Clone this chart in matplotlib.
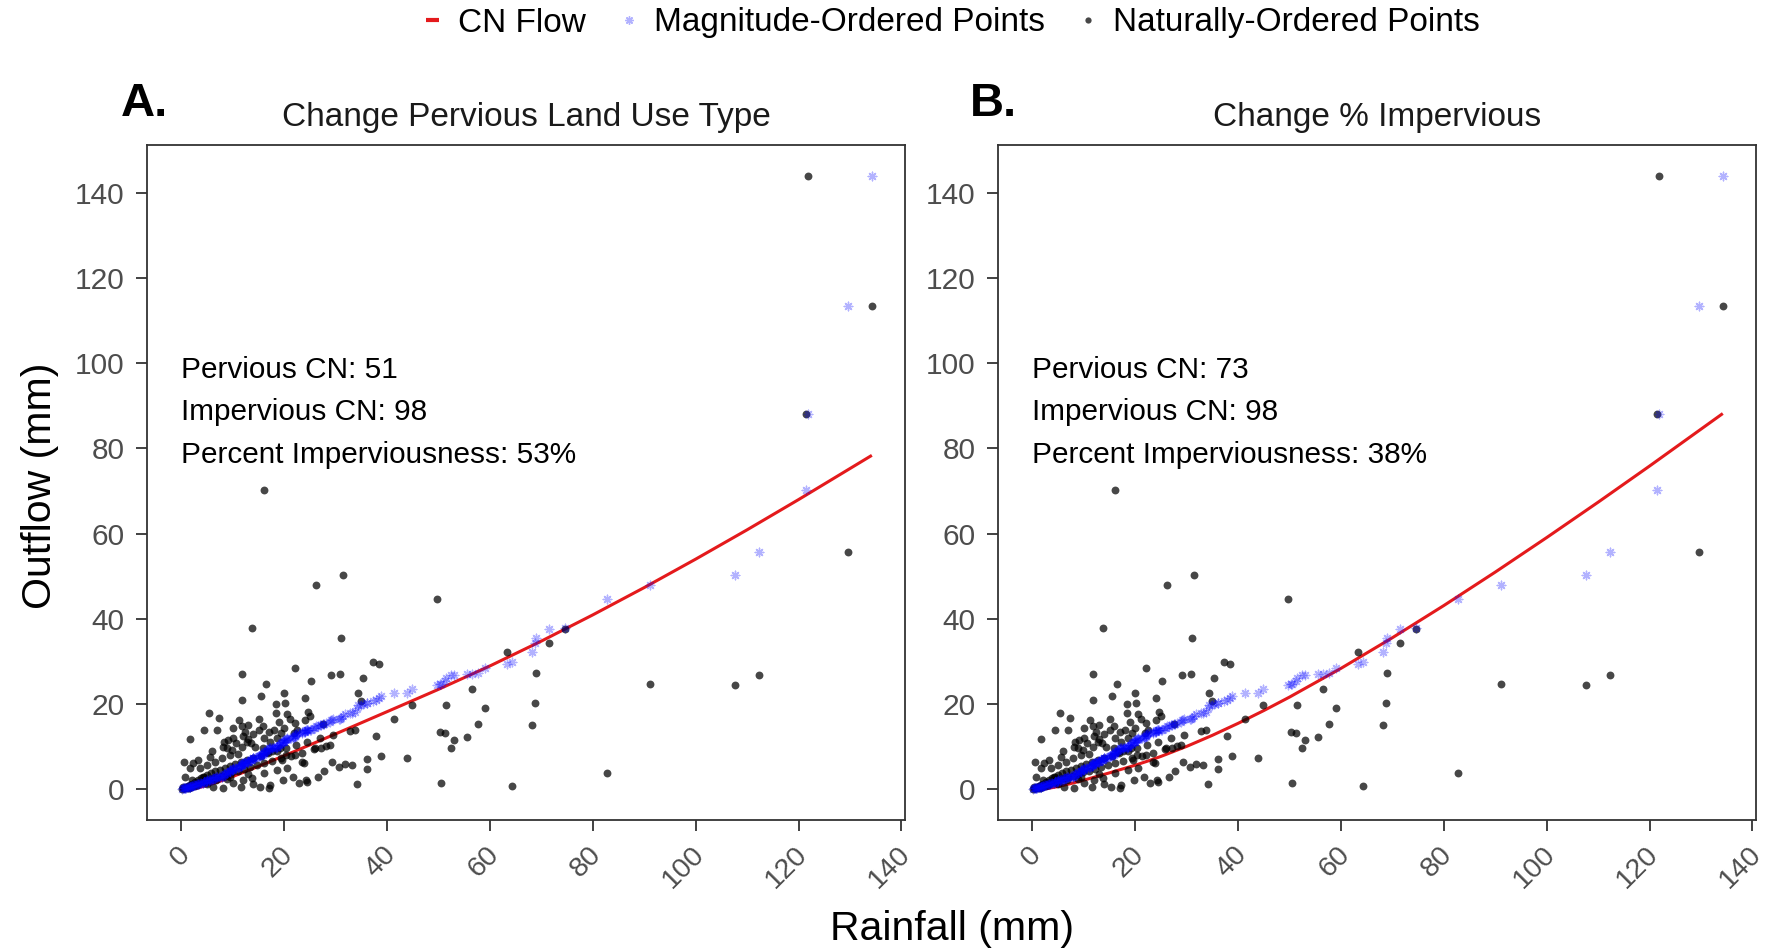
import numpy as np
import matplotlib
matplotlib.use("Agg")
import matplotlib.pyplot as plt
import matplotlib.transforms as mtransforms
from matplotlib.lines import Line2D

plt.rcParams['font.family'] = ['Liberation Sans', 'DejaVu Sans']

# ---------------- data ----------------
# naturally ordered storm events: rainfall (mm) and outflow (mm)
rainfall_mm = [
    121.8, 134.3, 121.4, 129.7, 16.1, 112.3, 107.7, 91.1, 82.8, 74.6,
    71.4, 68.9, 68.8, 68.1, 63.4, 64.2, 59.1, 56.5, 57.6, 55.5,
    53.0, 52.4, 50.3, 51.2, 51.4, 49.7, 50.4, 44.8, 43.8, 41.4,
    38.8, 37.8, 37.2, 38.4, 35.3, 34.4, 35.0, 32.8, 33.8, 31.1,
    31.4, 26.2, 34.1, 29.0, 30.8, 25.1, 22.1, 24.7, 13.7, 11.7,
    16.5, 11.7, 18.3, 20.2, 18.3, 20.6, 19.9, 5.4, 7.3, 4.3,
    7.0, 1.6, 11.2, 11.7, 12.4, 15.0, 15.8, 21.2, 25.0, 24.5,
    29.2, 30.6, 31.8, 33.2, 36.0, 36.1, 17.1, 19.5, 23.8, 26.0,
    27.2, 28.9, 27.5, 21.9, 0.5, 3.3, 8.2, 13.5, 11.7, 9.8,
    17.2, 18.5, 19.3, 22.4, 5.5, 6.5, 7.8, 9.4, 11.0, 16.6,
    17.6, 19.2, 20.4, 22.1, 23.4, 24.3, 1.7, 3.6, 4.9, 2.3,
    8.8, 10.7, 12.7, 14.3, 15.9,
    0.2, 0.4, 0.6, 0.8, 1.0, 1.2, 1.4, 1.6, 1.9, 2.1,
    2.4, 2.6, 2.9, 3.2, 3.5, 3.8, 4.1, 4.4, 4.7, 5.0,
    5.4, 5.8, 6.2, 6.6, 7.0, 7.4, 7.9, 8.4, 8.9, 9.4,
    9.9, 10.5, 11.0, 11.6, 12.2, 12.8, 13.4, 14.0, 14.7, 15.4,
    16.1, 16.9, 17.7, 18.5, 19.4, 20.3, 21.3, 22.3, 23.4, 24.5,
    25.7, 26.9, 28.1, 29.4,
    0.7, 4.2, 6.8, 8.8, 10.1, 12.0, 14.0, 15.3, 17.2, 19.8,
    21.7, 0.3, 3.0, 6.2, 8.0, 11.5, 13.0, 16.0, 18.5, 20.5,
    2.0, 5.0, 9.5, 13.8, 22.8, 26.5, 27.8,
    6.0, 8.0, 10.0, 12.0, 14.0, 16.0, 18.0, 9.0, 13.0, 17.0,
    20.0, 22.0, 24.0, 19.0, 10.0, 13.0, 15.0, 15.5, 24.0,
]
outflow_mm = [
    144.0, 113.5, 88.0, 55.6, 70.3, 26.8, 24.5, 24.6, 3.8, 37.6,
    34.4, 27.2, 20.3, 15.2, 32.2, 0.7, 19.1, 23.5, 15.4, 12.3,
    11.6, 9.7, 13.5, 13.3, 19.8, 44.7, 1.5, 19.9, 7.3, 16.4,
    7.9, 12.6, 29.8, 29.3, 26.2, 22.6, 20.8, 13.6, 14.0, 35.6,
    50.2, 47.9, 1.2, 26.8, 27.1, 25.4, 28.4, 18.2, 37.9, 27.1,
    24.7, 21.0, 20.1, 20.3, 17.8, 17.6, 22.5, 17.8, 16.8, 13.9,
    14.0, 11.8, 16.2, 14.9, 13.4, 13.9, 14.8, 16.5, 17.2, 1.8,
    6.3, 5.3, 6.0, 5.7, 7.0, 4.8, 0.3, 6.9, 6.1, 9.6,
    9.6, 10.4, 15.3, 13.1, 6.3, 6.9, 11.2, 10.8, 10.0, 9.2,
    11.2, 12.0, 13.1, 13.9, 7.5, 6.5, 7.3, 8.0, 8.3, 8.7,
    9.0, 9.6, 8.1, 8.1, 6.5, 2.2, 4.9, 4.9, 5.7, 6.1,
    9.6, 10.8, 11.2, 10.0, 9.6,
    0.1, 0.3, 0.2, 0.5, 0.3, 0.7, 0.4, 1.0, 0.6, 1.3,
    0.8, 1.7, 1.1, 2.1, 1.4, 2.6, 1.7, 3.0, 2.0, 3.4,
    2.3, 3.8, 2.6, 4.2, 2.9, 4.6, 3.2, 5.0, 3.6, 5.5,
    4.0, 6.0, 4.4, 6.4, 4.8, 6.9, 5.2, 7.4, 5.7, 7.9,
    6.2, 8.5, 6.7, 9.1, 7.3, 9.8, 7.9, 10.5, 8.6, 11.2,
    9.4, 12.0, 10.2, 12.8,
    3.0, 3.0, 2.2, 2.5, 1.4, 2.2, 1.2, 0.6, 1.0, 2.2,
    3.0, 0.6, 0.9, 0.6, 0.3, 0.5, 3.5, 3.8, 4.5, 5.0,
    2.2, 1.2, 2.8, 2.7, 1.5, 3.0, 4.2,
    9.0, 10.0, 12.0, 12.5, 13.0, 12.0, 14.0, 11.5, 11.8, 13.5,
    14.5, 15.5, 16.2, 15.8, 14.5, 15.0, 16.5, 21.8, 21.5,
]

# curve-number runoff curves
cn_rain = [0, 2, 3, 5, 7.5, 10, 15, 20, 22.5, 25, 30, 35, 40, 45, 50,
           60, 70, 80, 90, 100, 110, 120, 134]
cn_flow_a = [0, 0.08, 0.29, 0.91, 1.90, 3.01, 5.40, 7.89, 9.16, 10.44, 13.02,
             15.62, 18.23, 20.84, 23.47, 28.96, 34.79, 40.94, 47.35, 54.02,
             60.90, 67.99, 78.19]
cn_flow_b = [0, 0.06, 0.21, 0.65, 1.36, 2.16, 3.87, 5.67, 6.66, 7.73, 10.08,
             12.68, 15.49, 18.49, 21.65, 28.39, 35.58, 43.13, 50.98, 59.08,
             67.38, 75.86, 87.98]

panel_titles = ["Change Pervious Land Use Type", "Change % Impervious"]
panel_tags = ["A.", "B."]
annotations = [
    ["Pervious CN: 51", "Impervious CN: 98", "Percent Imperviousness: 53%"],
    ["Pervious CN: 73", "Impervious CN: 98", "Percent Imperviousness: 38%"],
]
annot_y = [100, 90, 80]
ticks = [0, 20, 40, 60, 80, 100, 120, 140]

# magnitude-ordered points: each series sorted on its own
mag_rain = np.sort(np.array(rainfall_mm))
mag_flow = np.sort(np.array(outflow_mm))

# ---------------- figure ----------------
W, H = 1772, 951
fig = plt.figure(figsize=(W / 100, H / 100), dpi=100)

ax_w = 758 / W
ax_h = 675 / H
bottom = 1 - 820 / H
lefts = [147 / W, 998 / W]
tag_x = [121 / W, 970 / W]

border = '#333333'
ticklab = '#4D4D4D'
red = '#E41A1C'
blue_marker = (8, 2, 0)

for i in range(2):
    ax = fig.add_axes([lefts[i], bottom, ax_w, ax_h])
    curve = cn_flow_a if i == 0 else cn_flow_b
    ax.plot(cn_rain, curve, color=red, lw=2.2, zorder=2)
    ax.scatter(rainfall_mm, outflow_mm, s=32, color='black', alpha=0.72,
               linewidths=0, zorder=3)
    ax.scatter(mag_rain, mag_flow, s=38, marker=blue_marker, color='blue',
               alpha=0.3, linewidths=1.0, zorder=4)

    ax.set_xlim(-6.7, 140.7)
    ax.set_ylim(-7.2, 151.2)
    ax.set_xticks(ticks)
    ax.set_yticks(ticks)
    ax.tick_params(axis='both', length=8, width=1.3, color=border,
                   labelcolor=ticklab)
    ax.tick_params(axis='y', labelsize=21.5, pad=8)
    ax.tick_params(axis='x', labelsize=20.5, pad=7.5)
    shift = mtransforms.ScaledTranslation(14 / 100, 0, fig.dpi_scale_trans)
    for lab in ax.get_xticklabels():
        lab.set_rotation(45)
        lab.set_ha('right')
        lab.set_va('top')
        lab.set_transform(lab.get_transform() + shift)
    for sp in ax.spines.values():
        sp.set_color(border)
        sp.set_linewidth(1.3)

    ax.set_title(panel_titles[i], fontsize=24, pad=14, color='#1a1a1a')
    for txt, yy in zip(annotations[i], annot_y):
        ax.text(0, yy - 1.5, txt, fontsize=21.4, ha='left', va='center',
                color='black')
    fig.text(tag_x[i], 1 - 116 / H, panel_tags[i], fontsize=34,
             fontweight='bold', ha='left', va='baseline')

fig.text(40 / W, 1 - 486 / H, "Outflow (mm)", rotation=90, fontsize=29.5,
         ha='center', va='center')
fig.text(952 / W, 1 - 929 / H, "Rainfall (mm)", fontsize=29.5,
         ha='center', va='center')

handles = [
    Line2D([], [], color=red, lw=3, solid_capstyle='butt'),
    Line2D([], [], color='blue', alpha=0.3, marker=blue_marker, ls='none',
           markersize=6, markeredgewidth=1.0),
    Line2D([], [], color='black', alpha=0.72, marker='o', ls='none',
           markersize=4.5, markeredgewidth=0),
]
fig.legend(handles, ["CN Flow", "Magnitude-Ordered Points",
                     "Naturally-Ordered Points"],
           loc='center', bbox_to_anchor=(953 / W, 1 - 23 / H), ncol=3,
           frameon=False, fontsize=24, handlelength=0.4, handletextpad=0.55,
           columnspacing=1.1, borderpad=0)

fig.savefig("out.png", dpi=100)
